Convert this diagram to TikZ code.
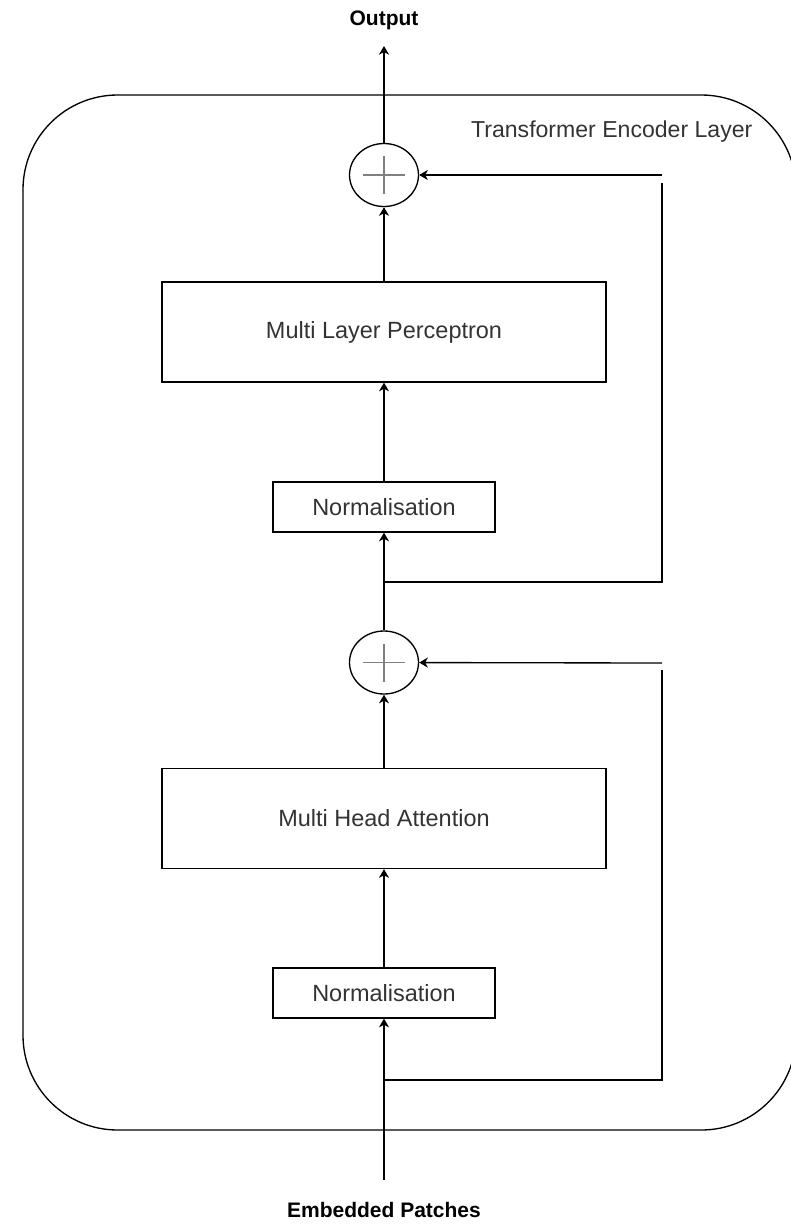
\documentclass[tikz,border=0pt]{standalone}
\usepackage{fontspec}
\setmainfont{Liberation Sans}
\usetikzlibrary{arrows.meta,shapes.geometric}
\definecolor{txt}{HTML}{333333}
\definecolor{plusc}{HTML}{808080}
\begin{document}
\begin{tikzpicture}[x=0.75pt,y=-0.75pt,
  line width=1pt,
  box/.style={draw, rectangle, inner sep=0pt, font=\fontsize{17.6pt}{20pt}\selectfont, text=txt},
  widebox/.style={box, minimum width=333pt, minimum height=75pt},
  normbox/.style={box, minimum width=166.5pt, minimum height=37.5pt},
  arr/.style={-{Stealth[length=6.5pt,width=7.5pt,inset=2pt]}},
  plus/.style={draw, ellipse, minimum width=51.75pt, minimum height=47.25pt, inner sep=0pt,
    path picture={
      \draw[plusc, line width=1.3pt]
        ([xshift=-15.75pt]path picture bounding box.center) -- ([xshift=15.75pt]path picture bounding box.center)
        ([yshift=-14.25pt]path picture bounding box.center) -- ([yshift=14.25pt]path picture bounding box.center);
    }},
  lab/.style={font=\bfseries\fontsize{15.75pt}{18pt}\selectfont, inner sep=0pt},
  outer/.style={draw, rounded corners=71pt}
]
\useasboundingbox (0,0) rectangle (791,1225);
\clip (0,0) rectangle (791,1225);

% outer container
\draw[outer] (23,95) rectangle (796,1130);
\node[inner sep=0pt, text=txt, font=\fontsize{17.3pt}{20pt}\selectfont, anchor=east] (title) at (753,132) {Transformer Encoder Layer};

% nodes
\node[plus] (p1) at (384,175) {};
\node[widebox] (mlp) at (384,332) {Multi Layer Perceptron};
\node[normbox] (n1) at (384,507) {Normalisation};
\node[plus] (p2) at (384,662.5) {};
\node[widebox] (mha) at (384,818.5) {Multi Head Attention};
\node[normbox] (n2) at (384,993) {Normalisation};

\node[lab] (outlab) at (384,20) {Output};
\node[lab] (inlab) at (384,1210) {Embedded Patches};

% coordinates
\coordinate (outtip) at (384,46);
\coordinate (in) at (384,1180);
\coordinate (b1) at (384,582);
\coordinate (r1) at (662,183);
\coordinate (s1) at (662,175);
\coordinate (b2) at (384,1080);
\coordinate (r2) at (662,670);
\coordinate (s2) at (662,663);

% main path
\draw[arr] (in) -- (n2);
\draw[arr] (n2) -- (mha);
\draw[arr] (mha) -- (p2);
\draw[arr] (p2) -- (n1);
\draw[arr] (n1) -- (mlp);
\draw[arr] (mlp) -- (p1);
\draw[arr] (p1) -- (outtip);

% residual connections
\draw (b2) -| (r2);
\draw[arr] (s2) -- (p2);
\draw (b1) -| (r1);
\draw[arr] (s1) -- (p1);
\end{tikzpicture}
\end{document}
